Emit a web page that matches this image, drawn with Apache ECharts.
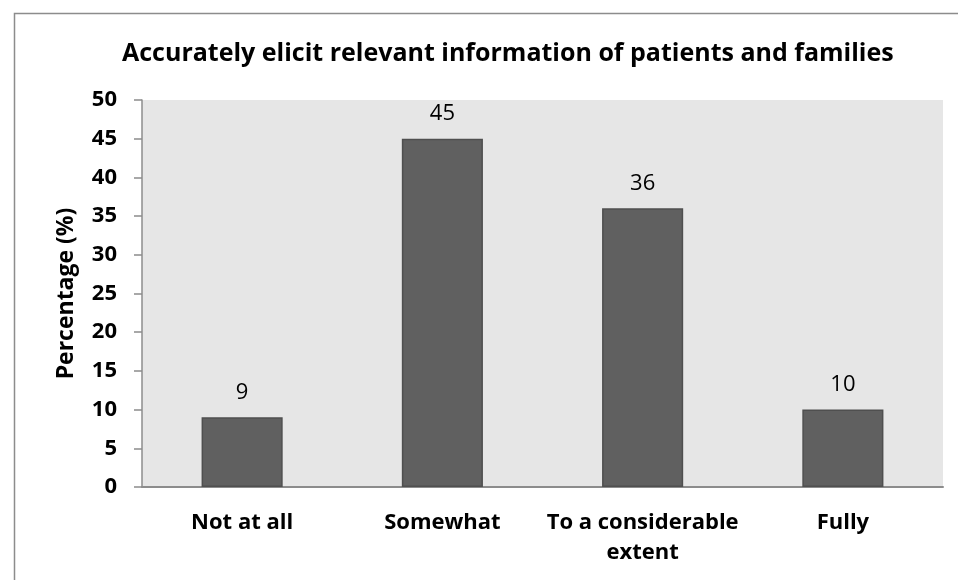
<!DOCTYPE html>
<html>
<head>
<meta charset="utf-8">
<script src="https://cdn.jsdelivr.net/npm/echarts@6/dist/echarts.min.js"></script>
<style>
  html, body { margin: 0; padding: 0; background: #fff; }
  #chart { width: 958px; height: 580px; }
</style>
</head>
<body>
<div id="chart"></div>
<script>
// Response categories and percentages
const categories = ['Not at all', 'Somewhat', 'To a considerable\nextent', 'Fully'];
const percentages = [9, 45, 36, 10];
const yTicks = { min: 0, max: 50, step: 5 };

const FONT = '"Open Sans", "Noto Sans", sans-serif';

const chart = echarts.init(document.getElementById('chart'), null, { renderer: 'canvas' });

chart.setOption({
  backgroundColor: '#ffffff',
  animation: false,
  title: {
    text: 'Accurately elicit relevant information of patients and families',
    left: 117,
    top: 36,
    textStyle: { fontFamily: FONT, fontWeight: 'bold', fontSize: 25, color: '#000' }
  },
  graphic: [{
    type: 'rect',
    left: 12, top: 11,
    shape: { width: 960, height: 600 },
    style: { fill: 'none', stroke: '#8c8c8c', lineWidth: 1.5 },
    silent: true
  }],
  grid: {
    left: 142, right: 15, top: 100, bottom: 93,
    show: true,
    backgroundColor: '#e6e6e6',
    borderWidth: 0
  },
  xAxis: {
    type: 'category',
    data: categories,
    axisLine: { show: true, lineStyle: { color: '#8c8c8c', width: 2 } },
    axisTick: { show: false },
    axisLabel: {
      fontFamily: FONT, fontWeight: 'bold', fontSize: 22, color: '#000',
      margin: 21, lineHeight: 30, interval: 0
    }
  },
  yAxis: {
    type: 'value',
    min: yTicks.min, max: yTicks.max, interval: yTicks.step,
    name: 'Percentage (%)',
    nameLocation: 'middle',
    nameGap: 64,
    nameTextStyle: { fontFamily: FONT, fontWeight: 'bold', fontSize: 23, color: '#000' },
    axisLine: { show: true, lineStyle: { color: '#8c8c8c', width: 1.5 } },
    axisTick: { show: true, length: 8, lineStyle: { color: '#8c8c8c', width: 1.5 } },
    splitLine: { show: false },
    axisLabel: {
      fontFamily: FONT, fontWeight: 'bold', fontSize: 22, color: '#000', margin: 25
    }
  },
  series: [{
    type: 'bar',
    data: percentages,
    barWidth: '40.5%',
    itemStyle: { color: '#606060', borderColor: '#4f4f4f', borderWidth: 1.5 },
    label: {
      show: true, position: 'top', distance: 14,
      fontFamily: FONT, fontSize: 22, color: '#000'
    }
  }]
});
</script>
</body>
</html>
